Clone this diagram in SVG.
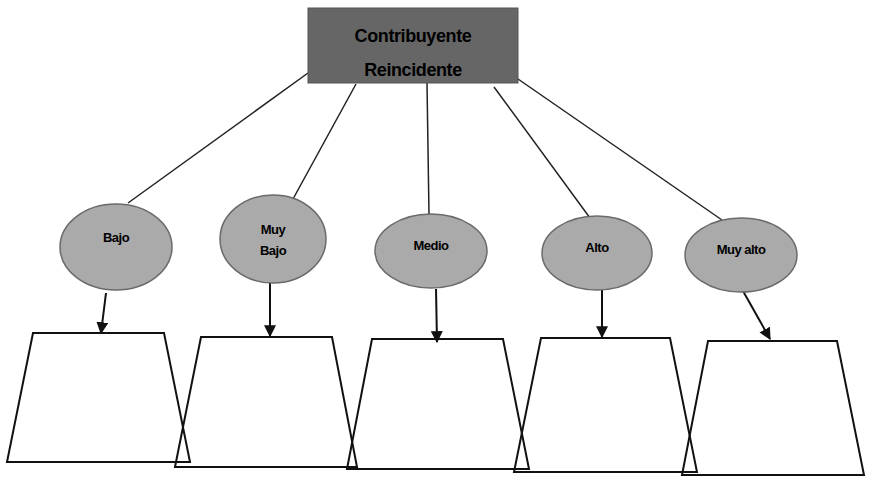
<svg xmlns="http://www.w3.org/2000/svg" width="875" height="484" viewBox="0 0 875 484">
<style>
.box{fill:#666666;stroke:#555555;stroke-width:1}
.ell{fill:#aaaaaa;stroke:#6a6a6a;stroke-width:1.5}
.trap{fill:none;stroke:#111111;stroke-width:2}
.ln{stroke:#222222;stroke-width:1.5;fill:none}
.ar{stroke:#111111;stroke-width:2;fill:none;marker-end:url(#ah)}
.t{font-family:"Liberation Sans",Arial,sans-serif;font-weight:bold;fill:#000000;text-anchor:middle}
.tt{font-size:18px;letter-spacing:-0.4px}
.te{font-size:13px;letter-spacing:-0.5px}
</style>
<defs>
<marker id="ah" viewBox="0 0 10 10" refX="9" refY="5" markerWidth="6" markerHeight="6" orient="auto" markerUnits="strokeWidth">
<path d="M0,0 L10,5 L0,10 z" fill="#111111"/>
</marker>
</defs>
<rect width="875" height="484" fill="#ffffff"/>
<g id="connectors">
<line class="ln" x1="308" y1="73" x2="128" y2="203"/>
<line class="ln" x1="356" y1="84" x2="293" y2="199"/>
<line class="ln" x1="427" y1="83" x2="429" y2="215"/>
<line class="ln" x1="494" y1="87" x2="590" y2="218"/>
<line class="ln" x1="518" y1="79" x2="722" y2="220"/>
<line class="ar" x1="106" y1="293" x2="101" y2="333"/>
<line class="ar" x1="270" y1="282" x2="270" y2="336"/>
<line class="ar" x1="436" y1="289" x2="437" y2="342"/>
<line class="ar" x1="602" y1="290" x2="602" y2="337"/>
<line class="ar" x1="743" y1="291" x2="770" y2="339"/>
</g>
<g id="root">
<rect class="box" x="308" y="8" width="210" height="75"/>
<text class="t tt" x="413" y="42">Contribuyente</text>
<text class="t tt" x="413" y="76">Reincidente</text>
</g>
<g id="bajo">
<ellipse class="ell" cx="116" cy="247" rx="56" ry="43"/>
<text class="t te" x="116" y="242">Bajo</text>
</g>
<g id="muybajo">
<ellipse class="ell" cx="273" cy="239" rx="53" ry="44"/>
<text class="t te" x="273" y="234">Muy</text>
<text class="t te" x="273" y="255">Bajo</text>
</g>
<g id="medio">
<ellipse class="ell" cx="431" cy="251" rx="56" ry="37"/>
<text class="t te" x="431" y="250">Medio</text>
</g>
<g id="alto">
<ellipse class="ell" cx="597" cy="253" rx="55" ry="37"/>
<text class="t te" x="597" y="252">Alto</text>
</g>
<g id="muyalto">
<ellipse class="ell" cx="741" cy="255" rx="56" ry="37"/>
<text class="t te" x="741" y="254">Muy alto</text>
</g>
<g id="trap1"><polygon class="trap" points="33,333 164,333 190,462 7,462"/></g>
<g id="trap2"><polygon class="trap" points="201,337 332,337 357,467 175,467"/></g>
<g id="trap3"><polygon class="trap" points="372,339 503,339 529,469 347,469"/></g>
<g id="trap4"><polygon class="trap" points="541,338 670,338 697,472 514,472"/></g>
<g id="trap5"><polygon class="trap" points="708,341 837,341 864,475 682,475"/></g>
</svg>
